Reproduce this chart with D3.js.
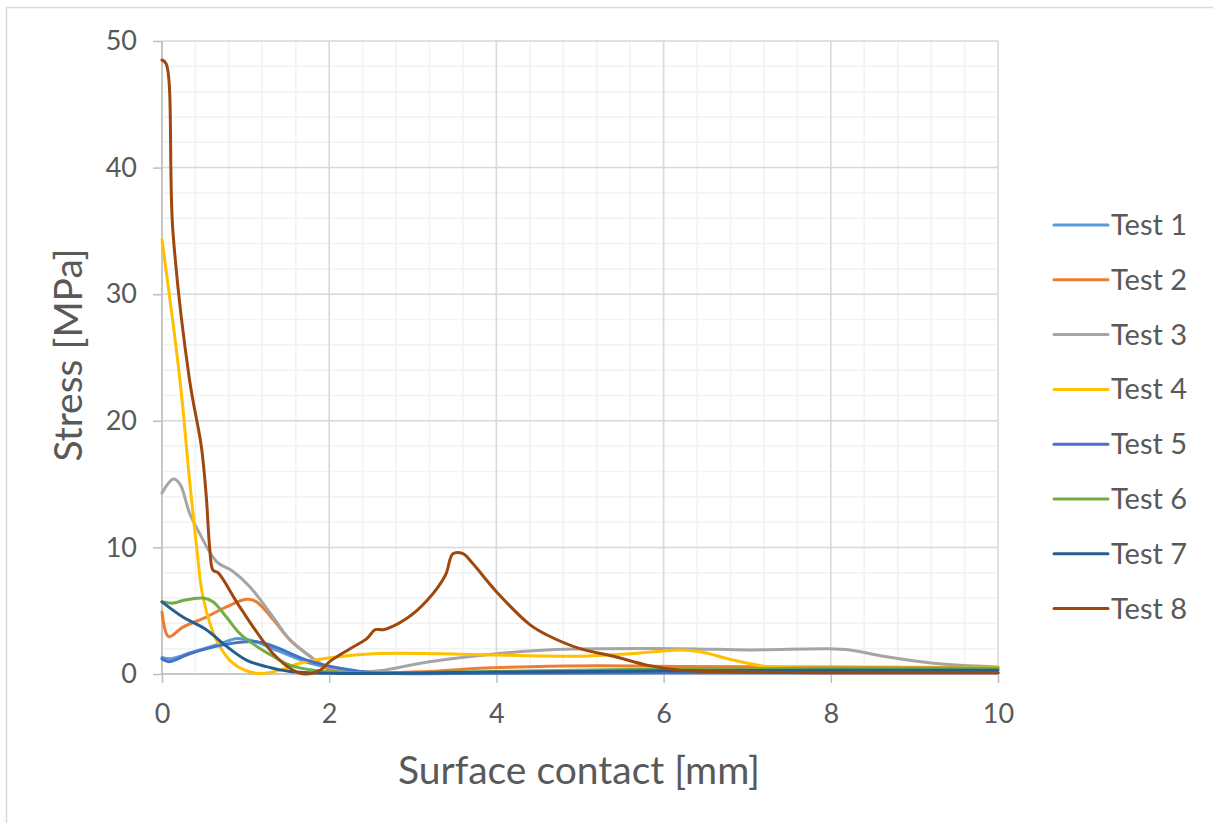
<!DOCTYPE html>
<html><head><meta charset="utf-8">
<script src="https://cdn.jsdelivr.net/npm/d3@7"></script>
<style>
html,body{margin:0;padding:0;background:#fff;}
svg{display:block;font-family:Lato,"Open Sans",sans-serif;}
</style></head>
<body>
<svg id="chart" width="1213" height="823"></svg>
<script>
const seriesNames = ["Test 1","Test 2","Test 3","Test 4","Test 5","Test 6","Test 7","Test 8"];
const seriesColors = ["#5B9BD5","#ED7D31","#A5A5A5","#FFC000","#4472C4","#70AD47","#255E91","#9E480E"];
const xTicks = [0,2,4,6,8,10];
const yTicks = [0,10,20,30,40,50];

const test1 = [[0,1.3],[0.1,1.2],[0.35,1.7],[0.7,2.4],[0.9,2.8],[1.1,2.6],[1.4,1.8],[1.8,0.8],[2.2,0.3],[2.6,0.1],[4,0.1],[6,0.1],[8,0.1],[10,0.1]];
const test2 = [[0,4.9],[0.08,2.95],[0.25,3.7],[0.53,4.5],[0.77,5.3],[1.01,5.9],[1.13,5.7],[1.33,4.3],[1.53,2.7],[1.77,1.4],[1.97,0.45],[2.3,0.1],[3.2,0.2],[3.8,0.45],[4.4,0.58],[5.2,0.66],[6.2,0.6],[8,0.55],[10,0.5]];
const test3 = [[0,14.3],[0.135,15.4],[0.215,15.0],[0.33,12.7],[0.45,11.1],[0.65,8.9],[0.85,8.1],[1.05,6.9],[1.33,4.5],[1.53,2.7],[1.77,1.4],[1.97,0.58],[2.33,0.2],[2.6,0.25],[3.2,0.97],[4.0,1.6],[4.6,1.9],[6.2,2.0],[7.03,1.9],[7.95,2.0],[8.23,1.9],[8.63,1.4],[9.23,0.85],[10,0.55]];
const test4 = [[0,34.3],[0.215,23.2],[0.33,15.3],[0.415,10],[0.49,6.1],[0.65,2.7],[0.85,0.85],[1.13,0.05],[1.41,0.3],[1.65,0.85],[1.93,1.2],[2.53,1.6],[3.33,1.6],[4.0,1.5],[5.0,1.4],[5.6,1.6],[6.2,1.9],[6.44,1.76],[6.83,1.1],[7.23,0.58],[7.5,0.5],[10,0.5]];
const test5 = [[0,1.2],[0.08,0.97],[0.33,1.6],[0.73,2.3],[1.13,2.55],[1.33,2.2],[1.73,1.1],[2.13,0.45],[2.53,0.1],[4,0.05],[6,0.1],[8,0.1],[10,0.1]];
const test6 = [[0,5.7],[0.135,5.6],[0.25,5.8],[0.49,6.0],[0.61,5.7],[0.77,4.5],[0.93,3.2],[1.13,2.2],[1.33,1.4],[1.53,0.7],[1.81,0.3],[2.3,0.1],[4,0.2],[6,0.4],[8,0.45],[10,0.45]];
const test7 = [[0,5.7],[0.25,4.5],[0.53,3.5],[0.77,2.2],[1.01,1.1],[1.25,0.58],[1.53,0.2],[2,0.05],[4,0.15],[6,0.25],[8,0.3],[10,0.3]];
const test8 = [[0,48.5],[0.05,48.2],[0.13,35],[0.33,23.2],[0.47,18],[0.53,14],[0.57,10],[0.61,8.2],[0.67,8.0],[0.93,5.3],[1.33,1.6],[1.57,0.3],[1.71,0],[1.89,0.3],[2.01,1.0],[2.25,2.0],[2.45,2.8],[2.55,3.5],[2.65,3.5],[2.93,4.4],[3.17,5.8],[3.39,7.8],[3.48,9.5],[3.6,9.5],[3.72,8.7],[4.0,6.5],[4.4,3.9],[4.6,3.1],[5.0,2.0],[5.4,1.4],[5.8,0.7],[6.2,0.3],[7,0.15],[8,0.1],[10,0.1]];
const seriesData = [test1,test2,test3,test4,test5,test6,test7,test8];

const svg = d3.select("#chart");
// chart border
svg.append("path").attr("d","M6.5,823 V7.5 H1213").attr("fill","none").attr("stroke","#D9D9D9").attr("stroke-width",1.5);

const x = d3.scaleLinear().domain([0,10]).range([162,998]);
const y = d3.scaleLinear().domain([0,50]).range([674,41]);

// minor grid
const g = svg.append("g");
g.selectAll(".mx").data(d3.range(0,10.001,0.4)).join("line")
  .attr("x1",d=>x(d)).attr("x2",d=>x(d)).attr("y1",y(0)).attr("y2",y(50))
  .attr("stroke","#F2F2F2").attr("stroke-width",1.5);
g.selectAll(".my").data(d3.range(0,50.001,2)).join("line")
  .attr("y1",d=>y(d)).attr("y2",d=>y(d)).attr("x1",x(0)).attr("x2",x(10))
  .attr("stroke","#F2F2F2").attr("stroke-width",1.5);
// major grid
g.selectAll(".Mx").data(xTicks).join("line")
  .attr("x1",d=>x(d)).attr("x2",d=>x(d)).attr("y1",y(0)).attr("y2",y(50))
  .attr("stroke","#D9D9D9").attr("stroke-width",1.5);
g.selectAll(".My").data(yTicks).join("line")
  .attr("y1",d=>y(d)).attr("y2",d=>y(d)).attr("x1",x(0)).attr("x2",x(10))
  .attr("stroke","#D9D9D9").attr("stroke-width",1.5);

// axes
const xAxis = svg.append("g").attr("transform",`translate(0,${y(0)})`)
  .call(d3.axisBottom(x).tickValues(xTicks).tickSize(9).tickPadding(24).tickFormat(d3.format("d")));
const yAxis = svg.append("g").attr("transform",`translate(${x(0)},0)`)
  .call(d3.axisLeft(y).tickValues(yTicks).tickSize(9).tickPadding(16).tickFormat(d3.format("d")));
[xAxis,yAxis].forEach(a=>{
  a.select(".domain").attr("stroke","#BFBFBF").attr("stroke-width",1.5);
  a.selectAll(".tick line").attr("stroke","#BFBFBF").attr("stroke-width",1.5);
  a.selectAll(".tick text").attr("fill","#595959").attr("font-size",27).attr("font-family","Lato,sans-serif");
});
xAxis.selectAll(".tick text").attr("dy","0.6em");
xAxis.select(".domain").attr("d",`M${x(0)},0H${x(10)}`);
yAxis.select(".domain").attr("d",`M0,${y(0)}V${y(50)}`);

// lines
const line = d3.line().x(d=>x(d[0])).y(d=>y(d[1])).curve(d3.curveCatmullRom.alpha(0.5));
svg.append("g").selectAll("path").data(seriesData).join("path")
  .attr("d",line).attr("fill","none")
  .attr("stroke",(d,i)=>seriesColors[i]).attr("stroke-width",3)
  .attr("stroke-linejoin","round").attr("stroke-linecap","round");

// axis titles
svg.append("text").attr("x",579).attr("y",784).attr("text-anchor","middle")
  .attr("fill","#595959").attr("font-size",39).text("Surface contact [mm]");
svg.append("text").attr("transform","translate(82,355) rotate(-90)").attr("text-anchor","middle")
  .attr("fill","#595959").attr("font-size",39).text("Stress [MPa]");

// legend
const lg = svg.append("g").selectAll("g").data(seriesNames).join("g")
  .attr("transform",(d,i)=>`translate(1054,${225+i*54.8})`);
lg.append("line").attr("x1",0).attr("x2",54).attr("y1",0).attr("y2",0)
  .attr("stroke",(d,i)=>seriesColors[i]).attr("stroke-width",3).attr("stroke-linecap","round");
lg.append("text").attr("x",57).attr("y",10).attr("fill","#595959").attr("font-size",29).text(d=>d);
</script>
</body></html>
